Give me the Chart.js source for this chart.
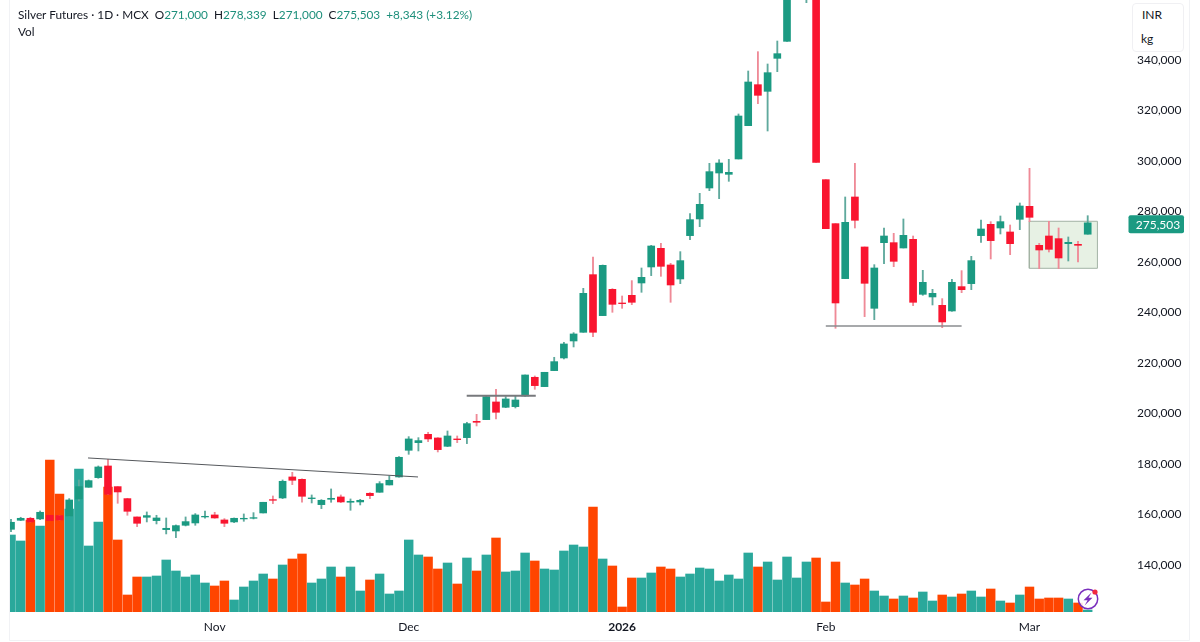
<!DOCTYPE html>
<html><head><meta charset="utf-8">
<style>
html,body{margin:0;padding:0;background:#fff;overflow:hidden}
#wrap{position:relative;width:1200px;height:642px;font-family:Lato,"Open Sans",sans-serif;color:#131722}
canvas{position:absolute;left:0;top:0}
.hd{position:absolute;white-space:pre;font-size:11.8px;line-height:14px}
.g{color:#1d8f7b}
#unit{position:absolute;left:1132px;top:3px;width:52px;height:49px;border:1px solid #f0f0f3;border-radius:4px;background:#fff;box-sizing:border-box}
#unit span{position:absolute;font-size:12px;line-height:14px}
svg{position:absolute}
</style>
<script src="https://cdn.jsdelivr.net/npm/chart.js@4/dist/chart.umd.min.js"></script>
</head><body>
<div id="wrap">
<canvas id="c" width="1200" height="642"></canvas>
<div class="hd" style="left:18px;top:8px">Silver Futures · 1D · MCX  O<span class="g">271,000</span>  H<span class="g">278,339</span>  L<span class="g">271,000</span>  C<span class="g">275,503</span>  <span class="g">+8,343 (+3.12%)</span></div>
<div class="hd" style="left:18px;top:25px">Vol</div>
<div id="unit"><span style="left:9px;top:4px">INR</span><span style="left:8px;top:28px">kg</span></div>
<svg style="left:1076px;top:587px" width="26" height="26" viewBox="0 0 26 26">
<circle cx="12" cy="12" r="9.7" fill="#fff" fill-opacity=".85" stroke="#7a2fbd" stroke-width="1.5"/>
<path d="M15.5 5.5 L7.5 13.2 L11.6 13.2 L8.6 18.5 L16.5 10.8 L12.5 10.8 Z" fill="#7a2fbd"/>
<circle cx="19" cy="5" r="2.6" fill="#f2283f"/>
</svg>
</div>
<script>
const open=[154140,157710,158500,158240,159690,159560,159420,166160,170780,174600,179220,171040,166290,159030,158900,157580,154010,153480,155730,156650,159030,159820,157840,157050,158240,158500,160610,165890,166550,174870,173940,166290,163910,166020,166950,164840,164970,168400,168800,171700,174870,185430,188460,191760,190310,187010,189920,190440,196910,197570,204570,202460,202720,206940,214340,210640,216980,221990,228720,232160,254990,238760,249180,243770,246810,251690,258030,265420,258820,253280,270440,277040,289310,295250,294720,300800,314000,330230,327590,340660,347390,375000,380000,420000,292610,275190,253410,285750,265950,241660,267660,267660,265550,268980,247200,246150,242850,240600,250240,251430,270440,274920,273470,271890,276900,282050,266610,270300,269250,267270,267000,271000];
const high=[158100,158900,158900,161400,159690,159560,166290,173680,173680,179220,181860,171040,166420,159030,161010,159690,158630,155860,159030,160350,161400,160880,158370,158630,160220,160740,164840,167340,173680,176720,174080,167740,165890,170120,167740,166160,166020,168660,173020,175260,182920,190840,190440,192560,190440,193080,191100,196520,199680,206810,209580,206680,206940,215260,214860,216320,222260,228200,232020,249580,261990,258820,249450,246540,252620,257630,266610,267400,259480,264100,279150,287200,299080,300530,300660,318620,335640,343300,338420,347520,385000,400000,410000,425000,292610,275190,285750,299080,265950,258950,273470,271360,277040,270300,256710,249180,245490,253140,256580,262250,276640,275980,278220,274660,283370,297100,267400,276110,273470,269910,268190,278339];
const low=[153220,157580,157050,157970,157580,157840,159420,165360,170780,174340,168000,164440,159690,155200,157050,156260,152300,150840,155460,155730,158500,158500,155200,156780,157310,158240,160610,164310,166290,171830,164840,164570,162330,164840,164700,161670,163780,166290,168800,171700,174740,183840,185160,188860,184770,186880,188460,188070,195060,197570,197840,202320,202190,206810,209580,210640,216980,221600,226350,232160,230440,238760,240080,241660,243110,248000,254600,254330,244040,251430,268850,274000,288260,285090,291950,300800,314000,322710,311880,335380,347390,365000,362700,299480,273210,233740,253410,273470,238360,237170,259350,258160,265550,242720,246810,242980,234000,240470,247860,249050,267800,261200,271100,262910,272810,275980,257370,263970,257370,260400,260010,271000];
const close=[156920,158500,157050,160880,157580,157840,165760,171040,173420,178830,168000,168930,161270,156520,159560,158630,154540,155600,157180,159820,159290,158630,156520,158500,158500,158760,164840,165630,173150,173550,167210,166550,165630,166420,164970,165230,165630,167480,172230,173550,182660,189920,189260,189920,185690,191100,189650,195990,196520,206680,200480,205760,205360,215260,211040,216320,220540,227540,231500,247600,232160,258690,243240,243510,244040,253940,266340,258290,250900,260540,276770,282840,295780,299210,295520,317820,331290,326010,334980,342510,380000,395000,400000,299480,273210,243770,275720,276510,251560,257630,270300,260270,270570,244040,251960,247600,236250,251960,249050,260540,273080,268460,275980,267270,282180,277700,264760,265020,261590,267800,266610,275503];
const volume=[7700,7100,9200,8600,15200,11800,10300,14300,6600,9000,12500,7200,1700,3500,3500,3600,5200,4100,3500,3700,2900,2600,3100,1200,2500,3100,3800,3300,4700,5300,5800,2900,3300,4500,3500,4500,2100,3200,3800,1800,2100,7200,5700,5500,4300,4900,2800,5400,4100,5700,7400,4000,4100,5900,5100,4300,4200,6100,6700,6500,10500,5300,4600,500,3400,3400,3900,4500,4300,3500,3800,4400,4300,3100,3700,3300,5900,4500,5000,3200,5500,3400,5000,5400,1000,5000,2900,2700,3300,2100,1600,1300,1600,1400,2000,1100,1700,1500,1800,2100,1500,2300,1100,900,1700,2500,1300,1400,1400,1300,900,200];
const priceTicks=[140000,160000,180000,200000,220000,240000,260000,280000,300000,320000,340000];
const monthIndex=[21,41,63,84,105];
const monthLabels=["Nov","Dec","2026","Feb","Mar"];
const trendDown=[{x:7.94,y:182390},{x:41.96,y:174870}];
const resistance=[{x:46.98,y:207060},{x:54.1,y:207060}];
const support=[{x:84,y:234660},{x:98,y:234660}];
const boxX=[104.98,112];
const boxY=[257510,276130];
const lastPrice=close[close.length-1];

const TEAL='#1b9a82',RED='#f9152f',TEALW='#5fa99d',REDW='#ef8a97',VT='#2aa89b',VR='#ff4500';
const idx=open.map((_,i)=>i);
const up=i=>close[i]>=open[i];

const lastLabel={id:'lastLabel',afterDraw(ch){
  const c=ch.ctx,y=ch.scales.y.getPixelForValue(lastPrice)+1.5;
  c.save();c.fillStyle='#1b9a82';
  c.beginPath();c.roundRect(1128.5,y-9,55.5,18,2);c.fill();
  c.fillStyle='#fff';c.font='12px Lato';c.textAlign='center';c.textBaseline='middle';
  c.fillText(lastPrice.toLocaleString('en-US'),1158,y+0.5);c.restore();
}};
const frame={id:'frame',beforeDraw(ch){
  const c=ch.ctx;c.save();c.strokeStyle='#f1f2f5';c.lineWidth=1;
  c.beginPath();c.moveTo(9.5,0);c.lineTo(9.5,640.5);c.lineTo(1189.5,640.5);c.lineTo(1189.5,0);c.stroke();c.restore();
}};
const noPad=s=>{s.paddingTop=0;s.paddingBottom=0;s.paddingLeft=0;s.paddingRight=0;};

new Chart(document.getElementById('c'),{
 type:'bar',
 data:{datasets:[
  {type:'bar',label:'Vol',yAxisID:'y2',order:6,grouped:false,barThickness:8.8,
   data:idx.map(i=>({x:i,y:volume[i]})),backgroundColor:idx.map(i=>up(i)?VT:VR)},
  {type:'line',label:'box',order:5,pointRadius:0,borderColor:'#a3b3a5',borderWidth:1,backgroundColor:'#e7f1e4',fill:'shape',tension:0,
   data:[{x:boxX[0],y:boxY[0]},{x:boxX[1],y:boxY[0]},{x:boxX[1],y:boxY[1]},{x:boxX[0],y:boxY[1]},{x:boxX[0],y:boxY[0]}]},
  {type:'bar',label:'wick',order:4,grouped:false,barThickness:1.2,
   data:idx.map(i=>({x:i,y:[low[i],high[i]]})),backgroundColor:idx.map(i=>up(i)?TEALW:REDW)},
  {type:'bar',label:'body',order:3,grouped:false,barThickness:7,
   data:idx.map(i=>({x:i,y:[open[i],close[i]]})),backgroundColor:idx.map(i=>up(i)?TEAL:RED)},
  {type:'line',label:'trend',order:2,pointRadius:0,borderColor:'#55585c',borderWidth:1,data:trendDown},
  {type:'line',label:'res',order:2,pointRadius:0,borderColor:'#77797c',borderWidth:2,data:resistance},
  {type:'line',label:'sup',order:2,pointRadius:0,borderColor:'#8a8c8f',borderWidth:1.6,data:support}
 ]},
 plugins:[frame,lastLabel],
 options:{
  responsive:false,animation:false,devicePixelRatio:1,
  layout:{padding:{left:10,right:10,top:0,bottom:2}},
  plugins:{legend:{display:false},tooltip:{enabled:false},title:{display:false}},
  scales:{
   x:{type:'linear',offset:false,min:-0.103,max:115.36,
      grid:{display:false,drawTicks:false},border:{display:false},
      afterBuildTicks:s=>{s.ticks=monthIndex.map(v=>({value:v}))},
      afterFit:s=>{s.height=28;noPad(s)},
      ticks:{autoSkip:false,maxRotation:0,minRotation:0,padding:8,color:'#131722',
        font:ctx=>({family:'Lato',size:12,weight:(ctx.tick&&ctx.tick.value===63)?'bold':'normal'}),
        callback:v=>monthLabels[monthIndex.indexOf(v)]}},
   y:{type:'linear',position:'right',min:121387,max:363762,
      grid:{display:false,drawTicks:false},border:{display:false},
      afterBuildTicks:s=>{s.ticks=priceTicks.map(v=>({value:v}))},
      afterFit:s=>{s.width=60;noPad(s)},
      ticks:{padding:7,color:'#131722',font:{family:'Lato',size:12},callback:v=>v.toLocaleString('en-US')}},
   y2:{type:'linear',display:false,min:0,max:61200}
  }
 }
});
</script>
</body></html>
